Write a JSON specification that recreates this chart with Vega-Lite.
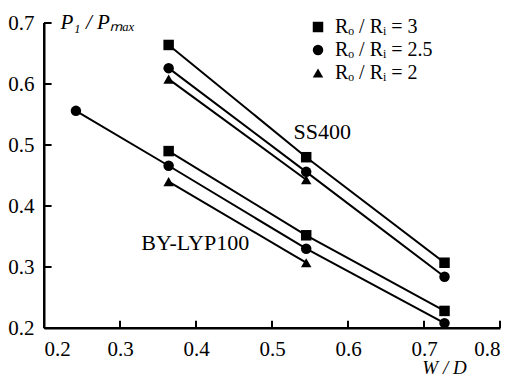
{
  "$schema": "https://vega.github.io/schema/vega-lite/v6.json",
  "width": 456,
  "height": 305,
  "autosize": {"type": "none"},
  "padding": {"left": 44, "top": 23, "right": 16, "bottom": 58},
  "background": "white",
  "config": {
    "view": {"stroke": null},
    "font": "Liberation Serif",
    "axis": {
      "grid": false,
      "domain": true,
      "domainColor": "black",
      "domainWidth": 2,
      "ticks": false,
      "tickSize": 0,
      "labelFont": "Liberation Serif",
      "labelFontSize": 21,
      "labelColor": "black",
      "titleFont": "Liberation Serif",
      "titleColor": "black",
      "titleFontWeight": "normal"
    }
  },
  "datasets": {
    "pts": [
      {"mat": "SS400", "ratio": "3", "wd": 0.364, "p": 0.664},
      {"mat": "SS400", "ratio": "3", "wd": 0.545, "p": 0.480},
      {"mat": "SS400", "ratio": "3", "wd": 0.727, "p": 0.307},
      {"mat": "SS400", "ratio": "2.5", "wd": 0.364, "p": 0.626},
      {"mat": "SS400", "ratio": "2.5", "wd": 0.545, "p": 0.456},
      {"mat": "SS400", "ratio": "2.5", "wd": 0.727, "p": 0.284},
      {"mat": "SS400", "ratio": "2", "wd": 0.364, "p": 0.608},
      {"mat": "SS400", "ratio": "2", "wd": 0.545, "p": 0.443},
      {"mat": "BY-LYP100", "ratio": "3", "wd": 0.364, "p": 0.490},
      {"mat": "BY-LYP100", "ratio": "3", "wd": 0.545, "p": 0.352},
      {"mat": "BY-LYP100", "ratio": "3", "wd": 0.727, "p": 0.228},
      {"mat": "BY-LYP100", "ratio": "2.5", "wd": 0.242, "p": 0.556},
      {"mat": "BY-LYP100", "ratio": "2.5", "wd": 0.364, "p": 0.466},
      {"mat": "BY-LYP100", "ratio": "2.5", "wd": 0.545, "p": 0.330},
      {"mat": "BY-LYP100", "ratio": "2.5", "wd": 0.727, "p": 0.208},
      {"mat": "BY-LYP100", "ratio": "2", "wd": 0.364, "p": 0.440},
      {"mat": "BY-LYP100", "ratio": "2", "wd": 0.545, "p": 0.307}
    ],
    "labels": [
      {"txt": "SS400", "wd": 0.566, "p": 0.521},
      {"txt": "BY-LYP100", "wd": 0.399, "p": 0.339}
    ],
    "xticks": [{"v": 0.3}, {"v": 0.4}, {"v": 0.5}, {"v": 0.6}, {"v": 0.7}, {"v": 0.8}],
    "yticks": [{"v": 0.3}, {"v": 0.4}, {"v": 0.5}, {"v": 0.6}, {"v": 0.7}]
  },
  "layer": [
    {
      "data": {"name": "pts"},
      "mark": {"type": "line", "color": "black", "strokeWidth": 2},
      "encoding": {
        "x": {"field": "wd", "type": "quantitative",
              "scale": {"domain": [0.2, 0.8], "nice": false, "zero": false},
              "axis": {"values": [0.2, 0.3, 0.4, 0.5, 0.6, 0.7, 0.8], "format": ".1f", "labelPadding": 10,
                       "title": "W / D", "titleFontStyle": "italic", "titleFontSize": 19,
                       "titleAlign": "center", "titleBaseline": "alphabetic",
                       "titleX": 400, "titleY": 45}},
        "y": {"field": "p", "type": "quantitative",
              "scale": {"domain": [0.2, 0.7], "nice": false, "zero": false},
              "axis": {"values": [0.2, 0.3, 0.4, 0.5, 0.6, 0.7], "format": ".1f", "labelPadding": 10,
                       "title": "P₁ / Pₘₐₓ", "titleFontStyle": "italic", "titleFontSize": 21,
                       "titleAngle": 0, "titleAlign": "left", "titleBaseline": "alphabetic",
                       "titleX": 16, "titleY": 5}},
        "detail": [{"field": "mat"}, {"field": "ratio"}]
      }
    },
    {
      "data": {"values": [{}]},
      "mark": {"type": "rule", "color": "black", "strokeWidth": 2},
      "encoding": {
        "x": {"datum": 0.2, "type": "quantitative"},
        "x2": {"datum": 0.8},
        "y": {"datum": 0.2, "type": "quantitative"}
      }
    },
    {
      "data": {"values": [{}]},
      "mark": {"type": "rule", "color": "black", "strokeWidth": 2},
      "encoding": {
        "y": {"datum": 0.2, "type": "quantitative"},
        "y2": {"datum": 0.7},
        "x": {"datum": 0.2, "type": "quantitative"}
      }
    },
    {
      "data": {"name": "xticks"},
      "mark": {"type": "rule", "color": "black", "strokeWidth": 2},
      "encoding": {
        "x": {"field": "v", "type": "quantitative"},
        "y": {"datum": 0.2, "type": "quantitative"},
        "y2": {"datum": 0.212}
      }
    },
    {
      "data": {"name": "yticks"},
      "mark": {"type": "rule", "color": "black", "strokeWidth": 2},
      "encoding": {
        "y": {"field": "v", "type": "quantitative"},
        "x": {"datum": 0.2, "type": "quantitative"},
        "x2": {"datum": 0.21}
      }
    },
    {
      "data": {"name": "pts"},
      "mark": {"type": "point", "filled": true, "color": "black", "opacity": 1, "size": 110},
      "encoding": {
        "x": {"field": "wd", "type": "quantitative"},
        "y": {"field": "p", "type": "quantitative"},
        "shape": {"field": "ratio", "type": "nominal",
                  "scale": {"domain": ["3", "2.5", "2"], "range": ["square", "circle", "triangle-up"]},
                  "legend": {"title": null, "orient": "none", "legendX": 264, "legendY": -6,
                             "labelExpr": "'Rₒ / Rᵢ = ' + datum.label",
                             "labelFont": "Liberation Serif", "labelFontSize": 20, "labelColor": "black",
                             "symbolFillColor": "black", "symbolStrokeColor": "black", "symbolSize": 110,
                             "rowPadding": 3, "labelOffset": 7}}
      }
    },
    {
      "data": {"name": "labels"},
      "mark": {"type": "text", "fontSize": 22, "font": "Liberation Serif", "color": "black"},
      "encoding": {
        "x": {"field": "wd", "type": "quantitative"},
        "y": {"field": "p", "type": "quantitative"},
        "text": {"field": "txt"}
      }
    }
  ]
}
